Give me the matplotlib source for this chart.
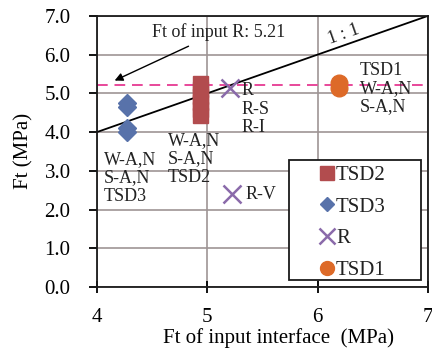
import matplotlib

matplotlib.use("Agg")
import matplotlib.pyplot as plt
from matplotlib.lines import Line2D
from matplotlib.patches import Rectangle

# data
tsd2_x = [4.93, 4.93, 4.93, 4.93, 4.93, 4.93]
tsd2_y = [4.43, 4.6, 4.77, 4.93, 5.1, 5.26]
tsd3_x = [4.27, 4.27, 4.27, 4.27]
tsd3_y = [4.75, 4.65, 4.1, 4.0]
r_x = [5.21, 5.22]
r_y = [5.14, 2.4]
tsd1_x = [6.195, 6.195]
tsd1_y = [5.26, 5.13]
ft_input_r = 5.21

C_TSD2 = "#B24C4E"
C_TSD3 = "#5872AA"
C_R = "#8A6AAA"
C_TSD1 = "#DD6A28"
C_GRID = "#9E9595"

plt.rcParams.update({
    "font.family": ["Liberation Serif", "DejaVu Serif"],
    "font.size": 13,
    "text.color": "#222222",
})

fig = plt.figure(figsize=(4.32, 3.53), dpi=100)
ax = fig.add_axes([0.2245, 0.187, 0.766, 0.768])

ax.set_xlim(4, 7)
ax.set_ylim(0, 7)
ax.set_xticks([4, 5, 6, 7])
ax.set_yticks([0, 1, 2, 3, 4, 5, 6, 7])
ax.set_yticklabels([f"{v:.1f}" for v in range(8)])
ax.grid(True, color=C_GRID, linewidth=1.2)
ax.set_axisbelow(True)
for s in ax.spines.values():
    s.set_linewidth(1.3)
    s.set_color("#1a1a1a")
ax.tick_params(axis="x", direction="inout", length=8, width=1.3, labelsize=15, pad=11)
ax.tick_params(axis="y", direction="out", length=6, width=1.3, labelsize=15, pad=13)

# 1:1 line
ax.plot([4, 7], [4, 7], color="black", linewidth=1.3, zorder=2)
ax.text(6.24, 6.53, "1 : 1", rotation=19.4, ha="center", va="center", fontsize=13)

# Ft of input R line
ax.axhline(ft_input_r, color="#E8479A", linestyle=(0, (5.5, 3.5)), linewidth=1.4, zorder=2)
ax.annotate("Ft of input R: 5.21", xy=(4.16, 5.33), xytext=(4.5, 6.58),
            ha="left", va="center", fontsize=13,
            arrowprops=dict(arrowstyle="-|>", color="black", lw=1.0,
                            shrinkA=4, shrinkB=0, mutation_scale=12))

# markers
ax.plot(tsd2_x, tsd2_y, "s", color=C_TSD2, markersize=10.8, linestyle="none", zorder=3)
ax.plot(tsd3_x, tsd3_y, "D", color=C_TSD3, markersize=9.5, linestyle="none", zorder=3)
ax.plot(r_x, r_y, "x", color=C_R, markersize=12.5, markeredgewidth=1.8,
        linestyle="none", zorder=3)
ax.plot(tsd1_x, tsd1_y, "o", color=C_TSD1, markersize=12, linestyle="none", zorder=3)

# labels
kw = dict(fontsize=13, ha="left", va="top", linespacing=1.08)
ax.text(4.06, 3.5, "W-A,N\nS-A,N\nTSD3", **kw)
ax.text(4.64, 3.99, "W-A,N\nS-A,N\nTSD2", **kw)
ax.text(5.31, 5.28, "R\nR-S\nR-I", **kw)
ax.text(5.35, 2.4, "R-V", fontsize=13, ha="left", va="center")
ax.text(6.38, 5.8, "TSD1\nW-A,N\nS-A,N", **kw)

# legend box drawn separately for its wide padding
ax.add_patch(Rectangle((0.58, 0.026), 0.399, 0.443, transform=ax.transAxes,
                       facecolor="white", edgecolor="#1a1a1a", linewidth=1.3,
                       zorder=5))
handles = [
    Line2D([], [], marker="s", color=C_TSD2, linestyle="none", markersize=10, label="TSD2"),
    Line2D([], [], marker="D", color=C_TSD3, linestyle="none", markersize=7.5, label="TSD3"),
    Line2D([], [], marker="x", color=C_R, linestyle="none", markersize=11,
           markeredgewidth=1.8, label="R"),
    Line2D([], [], marker="o", color=C_TSD1, linestyle="none", markersize=10, label="TSD1"),
]
leg = ax.legend(handles=handles, loc="upper left", bbox_to_anchor=(0.675, 0.449),
                fontsize=15, frameon=False, handlelength=0.6, handletextpad=0.15,
                labelspacing=0.58, borderpad=0, borderaxespad=0)
leg.set_zorder(6)

ax.set_xlabel("Ft of input interface  (MPa)", fontsize=15, labelpad=1, x=0.55)
ax.set_ylabel("Ft (MPa)", fontsize=15, labelpad=8)

fig.savefig("out.png", dpi=100)
